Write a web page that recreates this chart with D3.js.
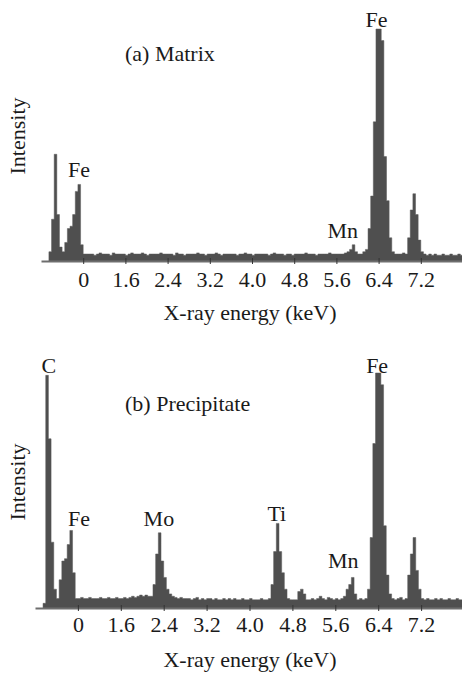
<!DOCTYPE html>
<html>
<head>
  <meta charset="utf-8">
  <title>EDS spectra</title>
  <style>
    body { margin: 0; background: #fff; }
    svg text { font-family: "Liberation Serif", "Times New Roman", serif; fill: #1a1a1a; }
  </style>
</head>
<body>
  <svg id="chart"></svg>

  <script src="https://d3js.org/d3.v7.min.js"></script>
  <script>
    // channels: first channel energy and width (keV)
    const energyStart = 0.15;
    const energyStep = 0.05;

    // (a) Matrix counts, relative to Fe K-alpha = 100
    const matrixCounts = [
      4, 18, 46, 20, 6, 4, 8, 14, 15, 20,      // 0.15
      30, 33, 7, 3, 3, 3, 3, 2.5, 3, 3.5,      // 0.65
      3, 3, 3, 2.5, 3.5, 3, 3, 3, 3, 2.5,      // 1.15
      3, 3.5, 3, 3, 3, 3.5, 3, 2.5, 3, 3,      // 1.65
      3, 3, 3.5, 3, 3, 3, 3, 2.5, 3.5, 3,      // 2.15
      3, 2.5, 3, 3, 3, 3, 3.5, 3, 3, 2.5,      // 2.65
      3, 3, 3, 3.5, 3, 2.5, 3, 3, 3, 3,        // 3.15
      3, 2.5, 3, 3, 3.5, 3, 3, 2.5, 3, 3,      // 3.65
      3, 3, 3, 2.5, 3, 3.5, 3, 3, 3, 2.5,      // 4.15
      3, 3, 2.5, 3, 3, 3, 3, 3.5, 3, 3,        // 4.65
      3, 2.5, 3, 3, 3, 3, 3.5, 3, 3, 3,        // 5.15
      3, 3, 3.5, 4, 5, 7, 4, 3, 3, 4,          // 5.65
      5, 14, 28, 60, 100, 100, 95, 45, 26, 10, // 6.15
      4, 3, 3, 3, 3.5, 3, 10, 22, 29, 20,      // 6.65
      9, 4, 3, 2.5, 3, 2.5, 3, 2.5, 2.5, 3,    // 7.15
      2.5, 2.5, 3, 2.5, 2.5, 3, 2.5, 2.5       // 7.65
    ];

    // (b) Precipitate counts
    const precipitateCounts = [
      2, 99, 72, 28, 8, 4, 12, 20, 21, 27,     // 0.15
      33, 15, 4, 4, 4.5, 4, 4, 4.5, 4, 4,      // 0.65
      4, 4.5, 4, 4, 4.5, 4, 4, 4.5, 4, 4,      // 1.15
      4.5, 4, 4.5, 5, 4.5, 5, 5.5, 5, 5.5, 5,  // 1.65
      5, 10, 23, 32, 20, 13, 8, 6, 5, 4.5,     // 2.15
      4, 4.5, 4, 4, 4, 3.5, 4, 4.5, 3.5, 4,    // 2.65
      3.5, 4, 4, 3.5, 4, 3.5, 3.5, 4, 3.5, 4,  // 3.15
      3.5, 4, 3.5, 3.5, 4, 3.5, 3.5, 4, 3.5, 3.5, // 3.65
      3.5, 4, 3.5, 3.5, 4, 10, 24, 36, 24, 15, // 4.15
      8, 4, 3.5, 3.5, 3.5, 7, 8, 6, 3.5, 3.5,  // 4.65
      4, 3.5, 4, 5, 4, 3.5, 4.5, 4, 3.5, 4,    // 5.15
      3.5, 4, 5, 8, 10, 13, 6, 3.5, 4, 3.5,    // 5.65
      4, 8, 30, 70, 100, 100, 95, 35, 14, 6,   // 6.15
      4, 3.5, 4, 4.5, 3.5, 4, 14, 23, 30, 16,  // 6.65
      8, 4, 3.5, 4, 3.5, 3.5, 4, 3.5, 4, 3.5,  // 7.15
      3.5, 4, 3.5, 3.5, 4, 3.5, 3.5, 3.5       // 7.65
    ];

    // axis ticks (the first label reads "0" in the original figure)
    const tickEnergies = [0.8, 1.6, 2.4, 3.2, 4.0, 4.8, 5.6, 6.4, 7.2];
    const tickLabels = ["0", "1.6", "2.4", "3.2", "4.0", "4.8", "5.6", "6.4", "7.2"];

    // peak labels: element, energy (keV), label height (same units as counts)
    const matrixPeakNames = ["Fe", "Mn", "Fe"];
    const matrixPeakEnergies = [0.72, 5.72, 6.36];
    const matrixPeakLevels = [36, 10, 101];

    const precipitatePeakNames = ["C", "Fe", "Mo", "Ti", "Mn", "Fe"];
    const precipitatePeakEnergies = [0.26, 0.82, 2.31, 4.51, 5.75, 6.38];
    const precipitatePeakLevels = [100, 35, 35, 37, 17, 100];

    const width = 462;
    const height = 674;
    const fontSize = "22px";

    const svg = d3.select("#chart")
      .attr("width", width)
      .attr("height", height);

    const panels = [
      { title: "(a) Matrix", counts: matrixCounts, names: matrixPeakNames, energies: matrixPeakEnergies, levels: matrixPeakLevels,
        x0: 41, x1: 463, base: 261, top: 29, titleY: 61, tickY: 287, axisTitleY: 320, yLabelY: 136 },
      { title: "(b) Precipitate", counts: precipitateCounts, names: precipitatePeakNames, energies: precipitatePeakEnergies, levels: precipitatePeakLevels,
        x0: 35, x1: 464, base: 608, top: 373, titleY: 411, tickY: 632, axisTitleY: 667, yLabelY: 482 }
    ];

    panels.forEach(p => {
      const x = d3.scaleLinear().domain([0, 8]).range([p.x0, p.x1]);
      const y = d3.scaleLinear().domain([0, 100]).range([p.base, p.top]);

      const points = p.counts.map((v, i) => ({ e: energyStart + i * energyStep, v: v }));

      const area = d3.area()
        .curve(d3.curveStepAfter)
        .x(d => x(d.e))
        .y0(y(0))
        .y1(d => y(d.v));

      svg.append("path")
        .datum(points)
        .attr("d", area)
        .attr("fill", "#4f4f4f")
        .attr("stroke", "#5a5a5a")
        .attr("stroke-width", 0.5);

      // x axis
      const axis = d3.axisBottom(x)
        .tickValues(tickEnergies)
        .tickFormat((d, i) => tickLabels[i])
        .tickSizeOuter(0);

      const g = svg.append("g")
        .attr("transform", `translate(0,${p.base})`)
        .call(axis);

      g.select(".domain").attr("stroke", "#6e6e6e").attr("stroke-width", 2);
      g.selectAll(".tick line").attr("y1", -3).attr("y2", 3).attr("stroke", "#333");
      g.selectAll(".tick text")
        .attr("y", p.tickY - p.base)
        .attr("dy", 0)
        .style("font-family", "'Liberation Serif', 'Times New Roman', serif")
        .style("font-size", fontSize)
        .attr("fill", "#1a1a1a");

      svg.append("text")
        .attr("x", 250)
        .attr("y", p.axisTitleY)
        .attr("text-anchor", "middle")
        .style("font-size", fontSize)
        .text("X-ray energy (keV)");

      svg.append("text")
        .attr("transform", `translate(25,${p.yLabelY}) rotate(-90)`)
        .attr("text-anchor", "middle")
        .style("font-size", fontSize)
        .text("Intensity");

      svg.append("text")
        .attr("x", 125)
        .attr("y", p.titleY)
        .style("font-size", fontSize)
        .text(p.title);

      // peak labels
      p.names.forEach((name, i) => {
        svg.append("text")
          .attr("x", x(p.energies[i]))
          .attr("y", y(p.levels[i]))
          .attr("text-anchor", "middle")
          .style("font-size", fontSize)
          .text(name);
      });
    });
  </script>
</body>
</html>
